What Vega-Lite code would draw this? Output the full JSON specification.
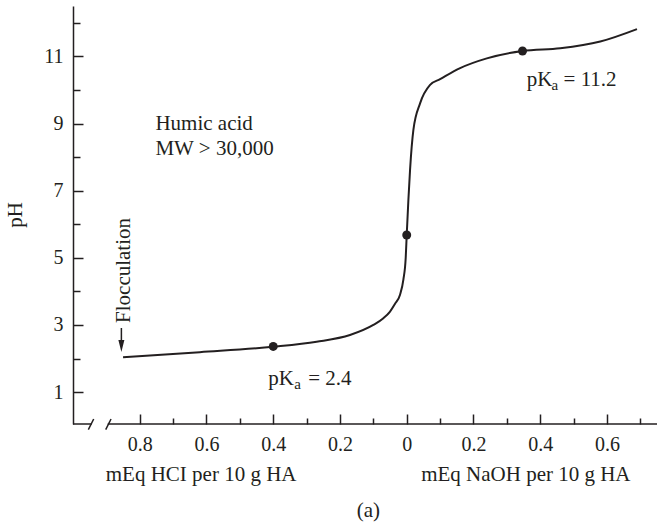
{
  "$schema": "https://vega.github.io/schema/vega-lite/v6.json",
  "width": 584,
  "height": 418,
  "autosize": "none",
  "padding": {"left": 73, "top": 6, "right": 0, "bottom": 101},
  "background": "white",
  "config": {
    "view": {"stroke": null},
    "font": "Liberation Serif",
    "axis": {
      "grid": false,
      "labelFont": "Liberation Serif",
      "labelFontSize": 20,
      "labelColor": "#231f20",
      "tickColor": "#231f20",
      "domainColor": "#231f20",
      "tickWidth": 1.5,
      "domainWidth": 1.5,
      "title": null
    }
  },
  "datasets": {
    "curve": [
      {"x": -0.85, "pH": 2.04},
      {"x": -0.62, "pH": 2.19},
      {"x": -0.4, "pH": 2.35},
      {"x": -0.27, "pH": 2.5},
      {"x": -0.17, "pH": 2.7},
      {"x": -0.1, "pH": 3.0},
      {"x": -0.07, "pH": 3.2},
      {"x": -0.05, "pH": 3.4},
      {"x": -0.035, "pH": 3.63},
      {"x": -0.02, "pH": 3.9},
      {"x": -0.01, "pH": 4.35},
      {"x": -0.003, "pH": 5.0},
      {"x": 0.0, "pH": 5.68},
      {"x": 0.005, "pH": 6.72},
      {"x": 0.01, "pH": 7.62},
      {"x": 0.02, "pH": 8.81},
      {"x": 0.04, "pH": 9.6},
      {"x": 0.07, "pH": 10.15},
      {"x": 0.1, "pH": 10.32},
      {"x": 0.16, "pH": 10.65},
      {"x": 0.24, "pH": 10.94},
      {"x": 0.347, "pH": 11.16},
      {"x": 0.46, "pH": 11.24},
      {"x": 0.58, "pH": 11.44},
      {"x": 0.69, "pH": 11.81}
    ],
    "dots": [
      {"x": -0.4, "pH": 2.36},
      {"x": 0.0, "pH": 5.68},
      {"x": 0.347, "pH": 11.16}
    ],
    "labels": [
      {"x": -0.415, "pH": 1.21, "t": "pK"},
      {"x": -0.295, "pH": 1.21, "t": "= 2.4"},
      {"x": 0.36, "pH": 10.13, "t": "pK"},
      {"x": 0.47, "pH": 10.13, "t": "= 11.2"},
      {"x": -0.753, "pH": 8.81, "t": "Humic acid"},
      {"x": -0.753, "pH": 8.06, "t": "MW > 30,000"}
    ],
    "subs": [
      {"x": -0.337, "pH": 1.09, "t": "a"},
      {"x": 0.434, "pH": 10.01, "t": "a"}
    ],
    "titles": [
      {"x": -0.616, "pH": -1.64, "t": "mEq HCI per 10 g HA"},
      {"x": 0.357, "pH": -1.64, "t": "mEq NaOH per 10 g HA"},
      {"x": -0.115, "pH": -2.73, "t": "(a)"}
    ],
    "ytitle": [{"x": -1.152, "pH": 6.28, "t": "pH"}],
    "floc": [{"x": -0.83, "pH": 3.06, "t": "Flocculation"}],
    "baseline": [
      {"x": -1.0, "x2": -0.944, "pH": 0.05},
      {"x": -0.896, "x2": 0.75, "pH": 0.05}
    ],
    "slashes": [
      {"x": -0.954, "x2": -0.938, "pH": -0.12, "pH2": 0.2},
      {"x": -0.902, "x2": -0.886, "pH": -0.12, "pH2": 0.2}
    ],
    "shaft": [{"x": -0.855, "pH": 2.91, "pH2": 2.45}],
    "head": [{"x": -0.855, "pH": 2.37}]
  },
  "layer": [
    {
      "data": {"name": "curve"},
      "mark": {"type": "line", "interpolate": "monotone", "color": "#231f20", "strokeWidth": 2},
      "encoding": {
        "x": {"field": "x", "type": "quantitative",
          "scale": {"domain": [-1.0, 0.75], "nice": false, "zero": false},
          "axis": {"orient": "bottom", "values": [-0.8, -0.6, -0.4, -0.2, 0, 0.2, 0.4, 0.6],
            "tickSize": -10, "labelPadding": 20, "domain": false,
            "labelExpr": "datum.value == 0 ? '0' : format(abs(datum.value), '.1f')"}},
        "y": {"field": "pH", "type": "quantitative",
          "scale": {"domain": [0.05, 12.5], "nice": false, "zero": false},
          "axis": {"orient": "left", "values": [1, 3, 5, 7, 9, 11], "tickSize": -10, "labelPadding": 20, "domain": true}}
      }
    },
    {
      "data": {"name": "dots"},
      "mark": {"type": "circle", "size": 80, "color": "#231f20", "opacity": 1},
      "encoding": {
        "x": {"field": "x", "type": "quantitative",
          "scale": {"domain": [-1.0, 0.75], "nice": false, "zero": false},
          "axis": {"orient": "bottom", "values": [-0.7, -0.5, -0.3, -0.1, 0.1, 0.3, 0.5, 0.7],
            "tickSize": -6, "labels": false, "domain": false}},
        "y": {"field": "pH", "type": "quantitative",
          "scale": {"domain": [0.05, 12.5], "nice": false, "zero": false},
          "axis": {"orient": "left", "values": [2, 4, 6, 8, 10, 12], "tickSize": -7, "labels": false, "domain": false}}
      }
    },
    {
      "data": {"name": "baseline"},
      "mark": {"type": "rule", "color": "#231f20", "strokeWidth": 1.5},
      "encoding": {
        "x": {"field": "x", "type": "quantitative", "scale": {"domain": [-1.0, 0.75], "nice": false, "zero": false}, "axis": null},
        "x2": {"field": "x2"},
        "y": {"field": "pH", "type": "quantitative", "scale": {"domain": [0.05, 12.5], "nice": false, "zero": false}, "axis": null}
      }
    },
    {
      "data": {"name": "slashes"},
      "mark": {"type": "rule", "color": "#231f20", "strokeWidth": 1.5},
      "encoding": {
        "x": {"field": "x", "type": "quantitative", "scale": {"domain": [-1.0, 0.75], "nice": false, "zero": false}, "axis": null},
        "x2": {"field": "x2"},
        "y": {"field": "pH", "type": "quantitative", "scale": {"domain": [0.05, 12.5], "nice": false, "zero": false}, "axis": null},
        "y2": {"field": "pH2"}
      }
    },
    {
      "data": {"name": "shaft"},
      "mark": {"type": "rule", "color": "#231f20", "strokeWidth": 1.5},
      "encoding": {
        "x": {"field": "x", "type": "quantitative", "scale": {"domain": [-1.0, 0.75], "nice": false, "zero": false}, "axis": null},
        "y": {"field": "pH", "type": "quantitative", "scale": {"domain": [0.05, 12.5], "nice": false, "zero": false}, "axis": null},
        "y2": {"field": "pH2"}
      }
    },
    {
      "data": {"name": "head"},
      "mark": {"type": "point", "shape": "M-0.5,-1L0.5,-1L0,1Z", "size": 144, "filled": true, "color": "#231f20", "opacity": 1},
      "encoding": {
        "x": {"field": "x", "type": "quantitative", "scale": {"domain": [-1.0, 0.75], "nice": false, "zero": false}, "axis": null},
        "y": {"field": "pH", "type": "quantitative", "scale": {"domain": [0.05, 12.5], "nice": false, "zero": false}, "axis": null}
      }
    },
    {
      "data": {"name": "labels"},
      "mark": {"type": "text", "align": "left", "baseline": "alphabetic", "fontSize": 21, "font": "Liberation Serif", "color": "#231f20"},
      "encoding": {
        "x": {"field": "x", "type": "quantitative", "scale": {"domain": [-1.0, 0.75], "nice": false, "zero": false}, "axis": null},
        "y": {"field": "pH", "type": "quantitative", "scale": {"domain": [0.05, 12.5], "nice": false, "zero": false}, "axis": null},
        "text": {"field": "t"}
      }
    },
    {
      "data": {"name": "subs"},
      "mark": {"type": "text", "align": "left", "baseline": "alphabetic", "fontSize": 15, "font": "Liberation Serif", "color": "#231f20"},
      "encoding": {
        "x": {"field": "x", "type": "quantitative", "scale": {"domain": [-1.0, 0.75], "nice": false, "zero": false}, "axis": null},
        "y": {"field": "pH", "type": "quantitative", "scale": {"domain": [0.05, 12.5], "nice": false, "zero": false}, "axis": null},
        "text": {"field": "t"}
      }
    },
    {
      "data": {"name": "titles"},
      "mark": {"type": "text", "align": "center", "baseline": "alphabetic", "fontSize": 21, "font": "Liberation Serif", "color": "#231f20"},
      "encoding": {
        "x": {"field": "x", "type": "quantitative", "scale": {"domain": [-1.0, 0.75], "nice": false, "zero": false}, "axis": null},
        "y": {"field": "pH", "type": "quantitative", "scale": {"domain": [0.05, 12.5], "nice": false, "zero": false}, "axis": null},
        "text": {"field": "t"}
      }
    },
    {
      "data": {"name": "ytitle"},
      "mark": {"type": "text", "align": "center", "baseline": "alphabetic", "angle": 270, "fontSize": 21, "font": "Liberation Serif", "color": "#231f20"},
      "encoding": {
        "x": {"field": "x", "type": "quantitative", "scale": {"domain": [-1.0, 0.75], "nice": false, "zero": false}, "axis": null},
        "y": {"field": "pH", "type": "quantitative", "scale": {"domain": [0.05, 12.5], "nice": false, "zero": false}, "axis": null},
        "text": {"field": "t"}
      }
    },
    {
      "data": {"name": "floc"},
      "mark": {"type": "text", "align": "left", "baseline": "alphabetic", "angle": 270, "fontSize": 21, "font": "Liberation Serif", "color": "#231f20"},
      "encoding": {
        "x": {"field": "x", "type": "quantitative", "scale": {"domain": [-1.0, 0.75], "nice": false, "zero": false}, "axis": null},
        "y": {"field": "pH", "type": "quantitative", "scale": {"domain": [0.05, 12.5], "nice": false, "zero": false}, "axis": null},
        "text": {"field": "t"}
      }
    }
  ],
  "resolve": {"axis": {"x": "independent", "y": "independent"}}
}
